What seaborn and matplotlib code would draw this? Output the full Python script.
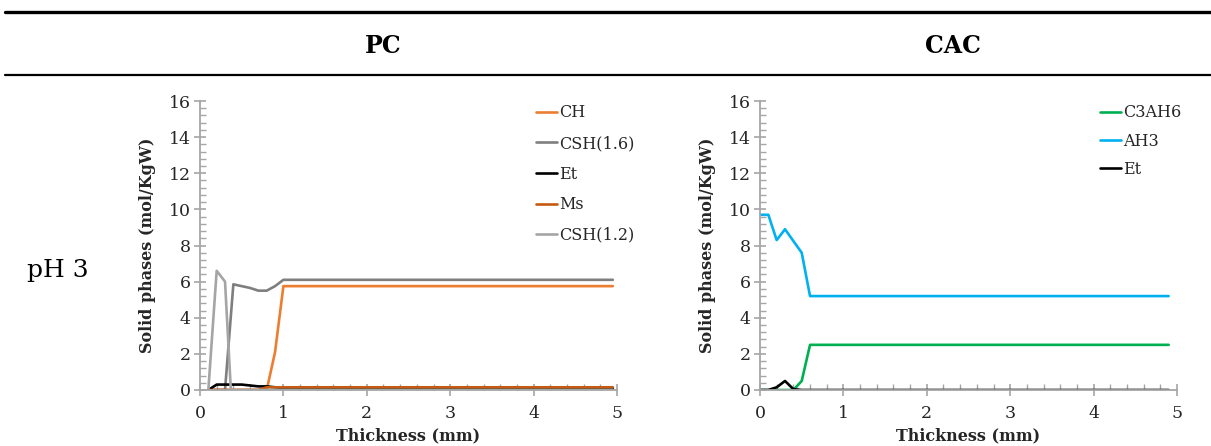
import numpy as np
import pandas as pd
import matplotlib
matplotlib.use("Agg")
import matplotlib.pyplot as plt
from matplotlib.ticker import MultipleLocator
from matplotlib.lines import Line2D
import seaborn as sns

# --- data (thickness in mm, solid phases in mol/KgW) ---
# PC, pH 3
pc_ch_x = [0.1, 0.2, 0.3, 0.4, 0.5, 0.6, 0.7, 0.8, 0.9, 1.0, 4.95]
pc_ch_y = [0.0, 0.0, 0.0, 0.0, 0.0, 0.0, 0.0, 0.0, 2.1, 5.75, 5.75]
pc_csh16_x = [0.1, 0.2, 0.3, 0.4, 0.5, 0.6, 0.7, 0.8, 0.9, 1.0, 4.95]
pc_csh16_y = [0.0, 0.0, 0.0, 5.85, 5.75, 5.65, 5.5, 5.5, 5.75, 6.1, 6.1]
pc_et_x = [0.1, 0.2, 0.3, 0.4, 0.5, 0.6, 0.7, 0.8, 0.9, 1.0, 4.95]
pc_et_y = [0.0, 0.3, 0.3, 0.3, 0.3, 0.25, 0.2, 0.2, 0.15, 0.1, 0.1]
pc_ms_x = [0.1, 0.2, 0.3, 0.4, 0.5, 0.6, 0.7, 0.8, 0.9, 1.0, 4.95]
pc_ms_y = [0.0, 0.0, 0.0, 0.0, 0.0, 0.0, 0.0, 0.15, 0.15, 0.15, 0.15]
pc_csh12_x = [0.1, 0.2, 0.3, 0.37, 0.5, 1.0, 4.95]
pc_csh12_y = [0.0, 6.6, 6.0, 0.0, 0.0, 0.0, 0.0]

# CAC, pH 3
cac_c3ah6_x = [0.0, 0.1, 0.2, 0.3, 0.4, 0.5, 0.6, 4.9]
cac_c3ah6_y = [0.0, 0.0, 0.0, 0.0, 0.0, 0.5, 2.5, 2.5]
cac_ah3_x = [0.0, 0.1, 0.2, 0.3, 0.4, 0.5, 0.6, 4.9]
cac_ah3_y = [9.7, 9.7, 8.3, 8.9, 8.25, 7.6, 5.2, 5.2]
cac_et_x = [0.0, 0.1, 0.2, 0.3, 0.4, 0.5, 0.6, 4.9]
cac_et_y = [0.0, 0.0, 0.15, 0.5, 0.05, 0.0, 0.0, 0.0]

pc_names = ["CH", "CSH(1.6)", "Et", "Ms", "CSH(1.2)"]
pc_colors = ["#ED7D31", "#7F7F7F", "#000000", "#C55A11", "#A5A5A5"]
cac_names = ["C3AH6", "AH3", "Et"]
cac_colors = ["#00B050", "#00B0F0", "#000000"]

col_titles = ["PC", "CAC"]
row_label = "pH 3"


def long_frame(names, xs, ys):
    parts = []
    for n, x, y in zip(names, xs, ys):
        parts.append(pd.DataFrame({"x": x, "y": y, "phase": n}))
    return pd.concat(parts, ignore_index=True)


pc_df = long_frame(pc_names,
                   [pc_ch_x, pc_csh16_x, pc_et_x, pc_ms_x, pc_csh12_x],
                   [pc_ch_y, pc_csh16_y, pc_et_y, pc_ms_y, pc_csh12_y])
cac_df = long_frame(cac_names,
                    [cac_c3ah6_x, cac_ah3_x, cac_et_x],
                    [cac_c3ah6_y, cac_ah3_y, cac_et_y])

sns.set_style("white")
plt.rcParams["font.family"] = ["DejaVu Serif"]

AX_GREY = "#A6A6A6"
TXT = "#262626"

fig = plt.figure(figsize=(12.11, 4.46), dpi=100)

# table rules and headers
fig.add_artist(Line2D([0.004, 1.0], [1 - 12 / 446] * 2, color="black", lw=2.4))
fig.add_artist(Line2D([0.004, 1.0], [1 - 75 / 446] * 2, color="black", lw=1.6))
fig.text(383 / 1211, 1 - 46 / 446, col_titles[0], ha="center", va="center",
         fontsize=17, fontweight="bold", color="black")
fig.text(953 / 1211, 1 - 46 / 446, col_titles[1], ha="center", va="center",
         fontsize=17, fontweight="bold", color="black")
fig.text(58 / 1211, 1 - 270 / 446, row_label, ha="center", va="center",
         fontsize=18, color="black")

bottom = 1 - 390 / 446
height = 289 / 446
width = 417 / 1211
ax1 = fig.add_axes([200 / 1211, bottom, width, height])
ax2 = fig.add_axes([760 / 1211, bottom, width, height])

sns.lineplot(data=pc_df, x="x", y="y", hue="phase", hue_order=pc_names,
             palette=pc_colors, linewidth=1.9, sort=False, ax=ax1)
sns.lineplot(data=cac_df, x="x", y="y", hue="phase", hue_order=cac_names,
             palette=cac_colors, linewidth=1.9, sort=False, ax=ax2)

for ax in (ax1, ax2):
    ax.set_xlim(0, 5)
    ax.set_ylim(0, 16)
    ax.xaxis.set_major_locator(MultipleLocator(1))
    ax.xaxis.set_minor_locator(MultipleLocator(0.2))
    ax.yaxis.set_major_locator(MultipleLocator(2))
    ax.yaxis.set_minor_locator(MultipleLocator(0.4))
    for s in ("top", "right"):
        ax.spines[s].set_visible(False)
    for s in ("left", "bottom"):
        ax.spines[s].set_color(AX_GREY)
        ax.spines[s].set_linewidth(1.3)
    ax.tick_params(which="both", bottom=True, left=True, top=False, right=False)
    ax.tick_params(which="major", direction="inout", length=9, width=1.2,
                   color=AX_GREY, labelsize=12.5, labelcolor=TXT, pad=2)
    ax.tick_params(which="minor", direction="in", length=4, width=1.0, color=AX_GREY)
    ax.tick_params(axis="x", which="major", pad=6)
    ax.patch.set_alpha(0)
    ax.set_ylabel("Solid phases (mol/KgW)", fontsize=11.5, fontweight="bold",
                  color=TXT, labelpad=9)
    ax.set_xlabel("Thickness (mm)", fontsize=11.5, fontweight="bold",
                  color=TXT, labelpad=4)

leg1 = ax1.legend(loc="upper left", bbox_to_anchor=(0.79, 1.01), frameon=False,
                  fontsize=11.5, handlelength=1.3, handletextpad=0.15,
                  labelspacing=0.85, borderaxespad=0)
leg2 = ax2.legend(loc="upper left", bbox_to_anchor=(0.80, 1.01), frameon=False,
                  fontsize=11.5, handlelength=1.3, handletextpad=0.15,
                  labelspacing=0.7, borderaxespad=0)
for leg in (leg1, leg2):
    leg.set_title(None)
    for t in leg.get_texts():
        t.set_color(TXT)

fig.savefig("out.png", dpi=100)
